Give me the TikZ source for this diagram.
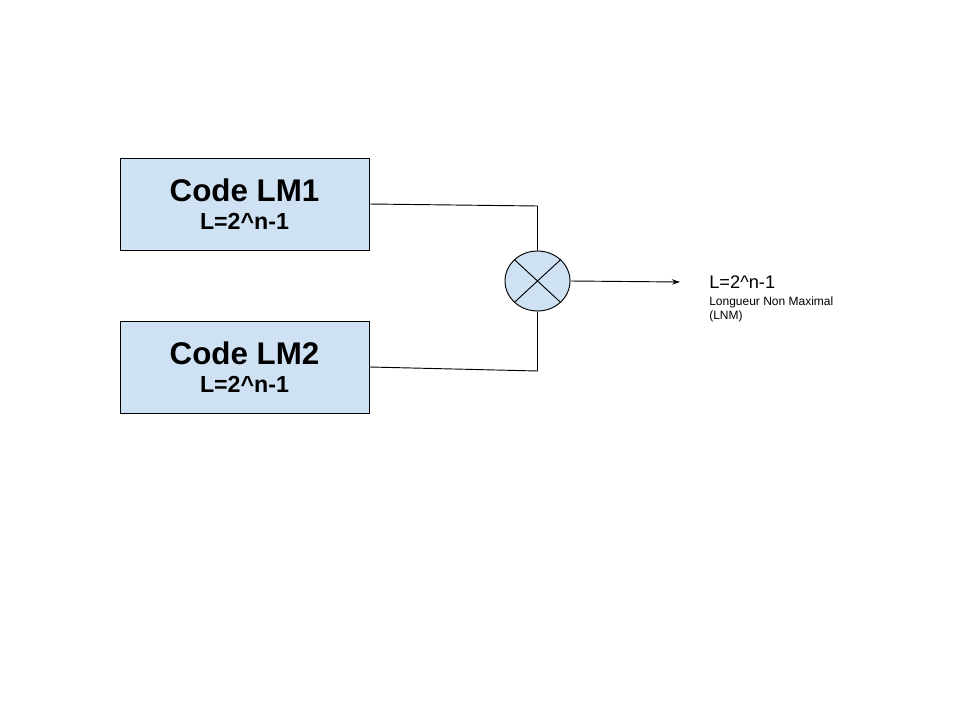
\documentclass[tikz,border=0pt]{standalone}
\usepackage{fontspec}
\setmainfont{Liberation Sans}
\usetikzlibrary{shapes.geometric, arrows.meta}
\definecolor{boxblue}{HTML}{CFE2F3}

\begin{document}
\begin{tikzpicture}[x=0.75pt, y=-0.75pt,
    codebox/.style={draw, fill=boxblue, minimum width=249*0.75pt, minimum height=92*0.75pt, inner sep=0pt, align=center, line width=0.7pt, font=\bfseries\fontsize{23.5pt}{21pt}\selectfont},
    wire/.style={line width=0.7pt}]
    \useasboundingbox (0,0) rectangle (960,720);

    % Code generators
    \node[codebox] (lm1) at (244.5,204) {Code LM1\\{\fontsize{17.4pt}{21pt}\selectfont L=2\textasciicircum n-1}};
    \node[codebox] (lm2) at (244.5,367) {Code LM2\\{\fontsize{17.4pt}{21pt}\selectfont L=2\textasciicircum n-1}};

    % Multiplier
    \node[draw, ellipse, fill=boxblue, minimum width=65*0.75pt, minimum height=60*0.75pt, inner sep=0pt, line width=0.7pt] (mix) at (537.5,281) {};
    \draw[wire] (mix.north west) -- (mix.south east);
    \draw[wire] (mix.north east) -- (mix.south west);

    % Wires
    \coordinate (k1) at (537.5,206);
    \coordinate (k2) at (537.5,371);
    \draw[wire] (lm1.east) -- (k1) -- (mix.north);
    \draw[wire] (lm2.east) -- (k2) -- (mix.south);

    % Output
    \coordinate (out) at (680,282);
    \draw[wire, -{Stealth[length=6pt, width=4pt]}] (mix.east) -- (out);
    \node[anchor=west, inner sep=0pt, font=\fontsize{13.7pt}{16pt}\selectfont] (lbl) at (709,282) {L=2\textasciicircum n-1};
    \node[anchor=north west, inner sep=0pt, align=left, font=\fontsize{9pt}{10.5pt}\selectfont] (lnm) at (709,296.5) {Longueur Non Maximal\\(LNM)};
\end{tikzpicture}
\end{document}
